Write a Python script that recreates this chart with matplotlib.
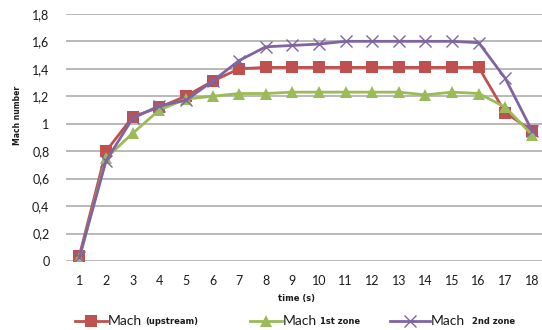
import matplotlib
matplotlib.use("Agg")
import matplotlib.pyplot as plt
from matplotlib.lines import Line2D

time_s = list(range(1, 19))
mach_upstream = [0.04, 0.80, 1.05, 1.12, 1.20, 1.31, 1.40, 1.41, 1.41, 1.41,
                 1.41, 1.41, 1.41, 1.41, 1.41, 1.41, 1.08, 0.95]
mach_zone1 = [0.02, 0.75, 0.93, 1.10, 1.18, 1.20, 1.22, 1.22, 1.23, 1.23,
              1.23, 1.23, 1.23, 1.21, 1.23, 1.22, 1.12, 0.92]
mach_zone2 = [0.03, 0.73, 1.04, 1.13, 1.17, 1.31, 1.46, 1.56, 1.57, 1.58,
              1.60, 1.60, 1.60, 1.60, 1.60, 1.59, 1.33, 0.95]
y_ticks = [0, 0.2, 0.4, 0.6, 0.8, 1.0, 1.2, 1.4, 1.6, 1.8]
y_tick_labels = ["0", "0,2", "0,4", "0,6", "0,8", "1", "1,2", "1,4", "1,6", "1,8"]

RED, GREEN, PURPLE = "#C0504D", "#9BBB59", "#8064A2"
MAIN_FONT = "Lato"
SMALL_FONT = "DejaVu Sans"

fig = plt.figure(figsize=(5.42, 3.30), dpi=100)
ax = fig.add_axes([0.122, 0.209, 0.884, 0.749])

series = [
    (mach_upstream, RED, "s", 8, 1),
    (mach_zone1, GREEN, "^", 8, 2),
    (mach_zone2, PURPLE, "x", 8, 3),
]
for vals, col, mk, ms, z in series:
    kw = dict(markeredgewidth=1.0) if mk == "x" else dict(markeredgewidth=0)
    ax.plot(time_s, vals, color=col, lw=2.0, marker=mk, ms=ms,
            markerfacecolor=col, markeredgecolor=col, zorder=z + 2, **kw)

ax.set_xlim(0.5, 18.5)
ax.set_ylim(0, 1.8)
ax.set_yticks(y_ticks)
ax.set_yticklabels(y_tick_labels)
ax.set_xticks(time_s)
ax.grid(axis="y", color="#A6A6A6", lw=1.1)
ax.set_axisbelow(True)
for s in ax.spines.values():
    s.set_visible(False)
ax.tick_params(length=0, labelsize=9, pad=10, colors="#1a1a1a")
ax.tick_params(axis="y", pad=12)
for lbl in ax.get_xticklabels() + ax.get_yticklabels():
    lbl.set_fontfamily(MAIN_FONT)

ax.text(-0.102, 0.59, "Mach number", transform=ax.transAxes, rotation=90,
        ha="center", va="center", fontsize=5.5, family=SMALL_FONT,
        fontweight="bold", color="#1a1a1a")
fig.text(297 / 542, 1 - 299 / 330, "time (s)", ha="center", va="center",
         fontsize=6, family=SMALL_FONT, fontweight="bold", color="#1a1a1a")

# legend drawn in figure pixels
legend_y = 1 - 321 / 330
entries = [
    (75, 107, RED, "s", "(upstream)"),
    (250, 282, GREEN, "^", "1st zone"),
    (390, 430, PURPLE, "x", "2nd zone"),
]
for x0, x1, col, mk, small in entries:
    kw = dict(markeredgewidth=1.0) if mk == "x" else dict(markeredgewidth=0)
    fig.add_artist(Line2D([x0 / 542, x1 / 542], [legend_y, legend_y],
                          transform=fig.transFigure, color=col, lw=2.0))
    fig.add_artist(Line2D([(x0 + x1) / 2 / 542], [legend_y],
                          transform=fig.transFigure, color=col, marker=mk,
                          ms=8, markerfacecolor=col, markeredgecolor=col, **kw))
    t = fig.text((x1 + 1) / 542, legend_y, "Mach", ha="left", va="center",
                 fontsize=10, family=MAIN_FONT, color="#1a1a1a")
    fig.canvas.draw()
    bb = t.get_window_extent()
    gap = 7 if small == "2nd zone" else 3
    fig.text((bb.x1 + gap) / 542, legend_y - 0.002, small, ha="left",
             va="center", fontsize=6, family=SMALL_FONT, fontweight="bold",
             color="#1a1a1a")

fig.savefig("out.png", dpi=100)
